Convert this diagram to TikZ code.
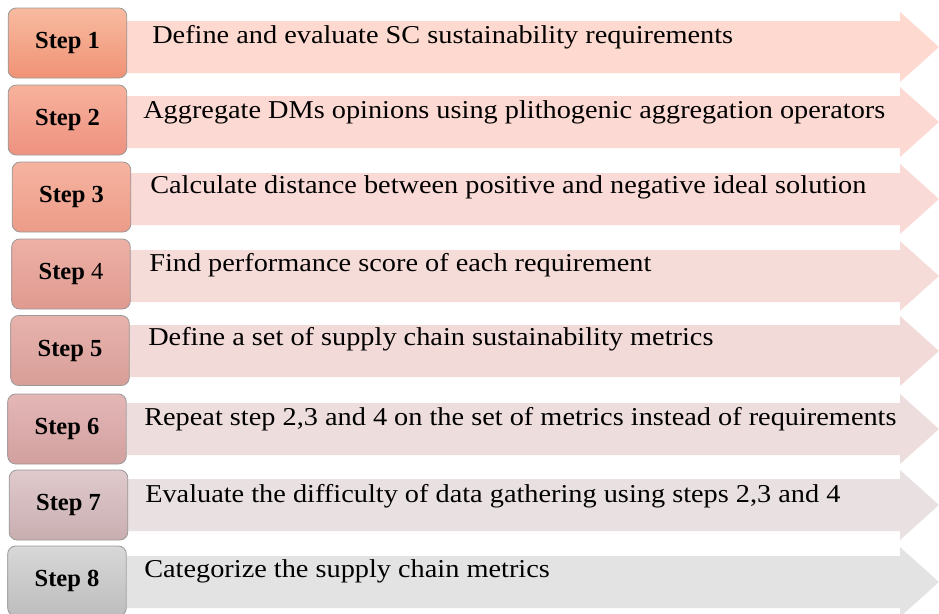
\documentclass[tikz,border=0pt]{standalone}
\usepackage{fontspec}
\setmainfont{Liberation Serif}
\newfontfamily\descfont[FakeStretch=1.1]{Liberation Serif}

% couleurs des etapes (haut, bas, fleche)
\definecolor{topA}{HTML}{F8BBA0}\definecolor{botA}{HTML}{F09275}\definecolor{arrA}{HTML}{FDD9CF}
\definecolor{topB}{HTML}{F7B29C}\definecolor{botB}{HTML}{EE9180}\definecolor{arrB}{HTML}{FCD9D2}
\definecolor{topC}{HTML}{F5B3A0}\definecolor{botC}{HTML}{EC9C88}\definecolor{arrC}{HTML}{F9DAD6}
\definecolor{topD}{HTML}{EDB0A5}\definecolor{botD}{HTML}{E09A90}\definecolor{arrD}{HTML}{F6DCD8}
\definecolor{topE}{HTML}{E8B3AD}\definecolor{botE}{HTML}{D89E98}\definecolor{arrE}{HTML}{F1DAD7}
\definecolor{topF}{HTML}{E4B7B6}\definecolor{botF}{HTML}{D1A09F}\definecolor{arrF}{HTML}{EDDDDD}
\definecolor{topG}{HTML}{E0CACC}\definecolor{botG}{HTML}{C9AEB0}\definecolor{arrG}{HTML}{E9E0E1}
\definecolor{topH}{HTML}{D8D8D8}\definecolor{botH}{HTML}{BDBDBD}\definecolor{arrH}{HTML}{E3E3E3}

\begin{document}
\begin{tikzpicture}[x=0.75pt, y=-0.75pt,
  stepbox/.style={rounded corners=6pt, draw=black!40, line width=0.6pt,
    minimum width=89pt, minimum height=52.5pt, inner sep=0pt,
    font=\fontsize{18.4pt}{20pt}\selectfont\bfseries},
  desc/.style={anchor=base west, inner sep=0pt,
    font=\descfont\fontsize{19.3pt}{22pt}\selectfont}]
  \useasboundingbox (0,0) rectangle (939,614);

  % Fleches
  \fill[arrA] (127,21) -- (900,21) -- (900,12) -- (939,47) -- (900,82) -- (900,73) -- (127,73) -- cycle;
  \fill[arrB] (127,96) -- (900,96) -- (900,87) -- (939,122) -- (900,157) -- (900,148) -- (127,148) -- cycle;
  \fill[arrC] (127,173) -- (900,173) -- (900,164) -- (939,199) -- (900,234) -- (900,225) -- (127,225) -- cycle;
  \fill[arrD] (127,250) -- (900,250) -- (900,241) -- (939,276) -- (900,311) -- (900,302) -- (127,302) -- cycle;
  \fill[arrE] (127,325) -- (900,325) -- (900,316) -- (939,351) -- (900,386) -- (900,377) -- (127,377) -- cycle;
  \fill[arrF] (127,403) -- (900,403) -- (900,394) -- (939,429) -- (900,464) -- (900,455) -- (127,455) -- cycle;
  \fill[arrG] (127,479) -- (900,479) -- (900,470) -- (939,505) -- (900,540) -- (900,531) -- (127,531) -- cycle;
  \fill[arrH] (127,556) -- (900,556) -- (900,547) -- (939,582) -- (900,617) -- (900,608) -- (127,608) -- cycle;

  % Etapes
  \node[stepbox, top color=topA, bottom color=botA] (step1) at (67.5,43) {Step 1};
  \node[stepbox, top color=topB, bottom color=botB] (step2) at (67.5,120) {Step 2};
  \node[stepbox, top color=topC, bottom color=botC] (step3) at (71.5,197) {Step 3};
  \node[stepbox, top color=topD, bottom color=botD] (step4) at (71,274) {Step {\mdseries 4}};
  \node[stepbox, top color=topE, bottom color=botE] (step5) at (70,350.5) {Step 5};
  \node[stepbox, top color=topF, bottom color=botF] (step6) at (67,429) {Step 6};
  \node[stepbox, top color=topG, bottom color=botG] (step7) at (68.5,505) {Step 7};
  \node[stepbox, top color=topH, bottom color=botH] (step8) at (67,581) {Step 8};

  % Textes
  \node[desc] (desc1) at (152,43) {Define and evaluate SC sustainability requirements};
  \node[desc] (desc2) at (143,118) {Aggregate DMs opinions using plithogenic aggregation operators};
  \node[desc] (desc3) at (150,193) {Calculate distance between positive and negative ideal solution};
  \node[desc] (desc4) at (149,271) {Find performance score of each requirement};
  \node[desc] (desc5) at (148,345) {Define a set of supply chain sustainability metrics};
  \node[desc] (desc6) at (144,425) {Repeat step 2,3 and 4 on the set of metrics instead of requirements};
  \node[desc] (desc7) at (145,502) {Evaluate the difficulty of data gathering using steps 2,3 and 4};
  \node[desc] (desc8) at (144,577) {Categorize the supply chain metrics};
\end{tikzpicture}
\end{document}
